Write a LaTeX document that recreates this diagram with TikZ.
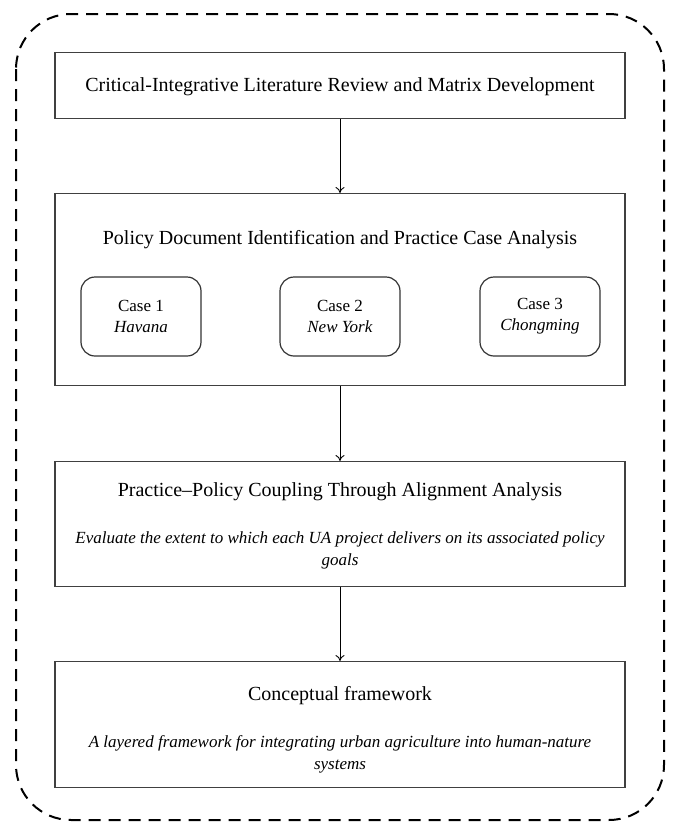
\documentclass[tikz,border=0pt]{standalone}
\usepackage{fontspec}
\setmainfont{Liberation Serif}
\usetikzlibrary{arrows.meta}
\begin{document}
\begin{tikzpicture}[x=1pt,y=-1pt,
  mainbox/.style={draw=black!75, line width=1.2pt, minimum width=570pt, anchor=north},
  casebox/.style={draw=black!80, line width=1.2pt, rounded corners=14pt, minimum width=120pt, minimum height=79pt, align=center, font=\fontsize{17}{21}\selectfont},
  flow/.style={draw=black, line width=0.9pt, -{To[length=6pt,width=9pt]}},
  ttl/.style={font=\fontsize{20}{24}\selectfont},
  sub/.style={font=\fontsize{17}{22}\selectfont\itshape, align=center}]
\useasboundingbox (0,0) rectangle (676,822);
\draw[line width=2pt, dash pattern=on 12pt off 8pt, rounded corners=55pt] (16,14) rectangle (664,820);
% boxes
\node[mainbox, minimum height=66pt] (b1) at (340,52) {};
\node[ttl] (t1) at (340,87) {Critical-Integrative Literature Review and Matrix Development};
\node[mainbox, minimum height=192pt] (b2) at (340,193) {};
\node[ttl] (t2) at (340,240) {Policy Document Identification and Practice Case Analysis};
\node[casebox] (c1) at (141,316.5) {Case 1\\\textit{Havana}};
\node[casebox] (c2) at (340,316.5) {Case 2\\\textit{New York}};
\node[casebox] (c3) at (540,316.5) {Case 3\\\textit{Chongming}};
\node[mainbox, minimum height=125pt] (b3) at (340,461) {};
\node[ttl] (t3) at (340,492) {Practice–Policy Coupling Through Alignment Analysis};
\node[sub] (s3) at (340,550) {Evaluate the extent to which each UA project delivers on its associated policy\\goals};
\node[mainbox, minimum height=126pt] (b4) at (340,661) {};
\node[ttl] (t4) at (340,696) {Conceptual framework};
\node[sub] (s4) at (340,754) {A layered framework for integrating urban agriculture into human-nature\\systems};
\draw[flow] (b1.south) -- (b2.north);
\draw[flow] (b2.south) -- (b3.north);
\draw[flow] (b3.south) -- (b4.north);
\end{tikzpicture}
\end{document}
